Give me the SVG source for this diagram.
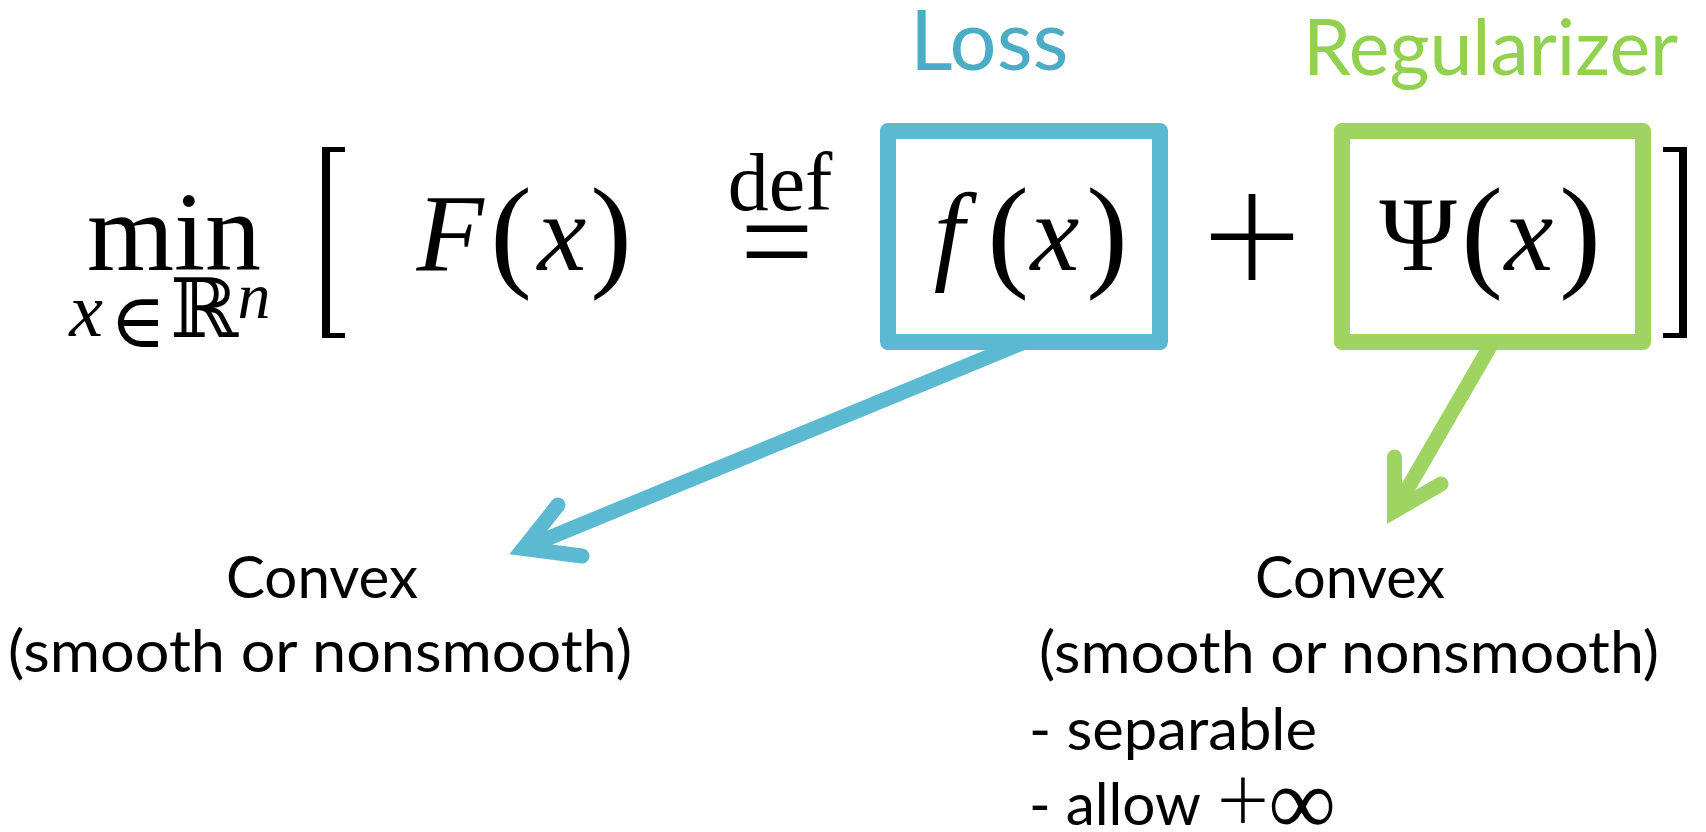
<svg xmlns="http://www.w3.org/2000/svg" width="1706" height="832" viewBox="0 0 1706 832">
<defs>
<style>
.m{font-family:"Liberation Serif","DejaVu Serif",serif;fill:#000}
.mi{font-family:"Liberation Serif","DejaVu Serif",serif;font-style:italic;fill:#000}
.ms{font-family:"DejaVu Serif","Liberation Serif",serif;fill:#000}
.pl{font-family:Lato,"Open Sans",sans-serif;font-weight:300;fill:#000}
.t{font-family:Lato,"Open Sans","Liberation Sans",sans-serif;fill:#000}
.blue{stroke:#5bb9d1}
.green{stroke:#a0d462}
.box{fill:none;stroke-width:16;stroke-linejoin:round}
.arr{fill:none;stroke-width:15;stroke-linecap:round;stroke-linejoin:miter;stroke-miterlimit:10}
</style>
</defs>
<rect width="1706" height="832" fill="#fff"/>
<g id="connectors">
<path class="arr blue" d="M1022 343 L523.5 548.4 M558 505 L523.5 548.4 L582 556"/>
<path class="arr green" d="M1492 343 L1394.5 511 M1394.5 457 L1394.5 511 L1441 484"/>
</g>
<g id="objective">
<text class="m" x="174" y="270" font-size="112" text-anchor="middle">min</text>
<text class="mi" x="86" y="336" font-size="76" text-anchor="middle">x</text>
<text class="ms" x="138" y="347" font-size="76" text-anchor="middle">∈</text>
<text class="ms" x="204" y="337" font-size="82" text-anchor="middle">ℝ</text>
<text class="mi" x="254" y="318" font-size="66" text-anchor="middle">n</text>
<path d="M322 147 H345 V152 H330 V333 H345 V338 H322 Z" fill="#000"/>
<text class="mi" x="450" y="270" font-size="110" text-anchor="middle">F</text>
<text class="m" x="511" y="274" font-size="125" text-anchor="middle">(</text>
<text class="mi" x="562" y="270" font-size="110" text-anchor="middle">x</text>
<text class="m" x="611" y="274" font-size="125" text-anchor="middle">)</text>
<text class="m" x="780" y="210" font-size="82" text-anchor="middle">def</text>
<text class="m" x="777" y="285" font-size="130" text-anchor="middle">=</text>
<text class="pl" x="1252" y="296" font-size="175" text-anchor="middle">+</text>
<path d="M1687 147 H1663 V152 H1679 V333 H1663 V338 H1687 Z" fill="#000"/>
</g>
<g id="loss">
<rect class="box blue" x="888" y="131" width="272" height="211"/>
<text class="t" x="910" y="70" font-size="83" style="fill:#4bacc6">Loss</text>
<text class="mi" x="949" y="270" font-size="110" text-anchor="middle">f</text>
<text class="m" x="1008" y="274" font-size="125" text-anchor="middle">(</text>
<text class="mi" x="1055" y="270" font-size="110" text-anchor="middle">x</text>
<text class="m" x="1107" y="274" font-size="125" text-anchor="middle">)</text>
</g>
<g id="regularizer">
<rect class="box green" x="1342" y="131" width="301" height="211"/>
<text class="t" x="1303" y="75" font-size="77" style="fill:#92d050">Regularizer</text>
<text class="m" x="1418" y="270" font-size="105" text-anchor="middle">Ψ</text>
<text class="m" x="1482" y="274" font-size="125" text-anchor="middle">(</text>
<text class="mi" x="1529" y="270" font-size="110" text-anchor="middle">x</text>
<text class="m" x="1580" y="274" font-size="125" text-anchor="middle">)</text>
</g>
<g id="loss-note">
<text class="t" x="322" y="598" font-size="59" text-anchor="middle" textLength="192" lengthAdjust="spacingAndGlyphs">Convex</text>
<text class="t" x="320" y="672" font-size="59" text-anchor="middle" textLength="624" lengthAdjust="spacingAndGlyphs">(smooth or nonsmooth)</text>
</g>
<g id="reg-note">
<text class="t" x="1350" y="598" font-size="59" text-anchor="middle" textLength="190" lengthAdjust="spacingAndGlyphs">Convex</text>
<text class="t" x="1349" y="673" font-size="59" text-anchor="middle" textLength="620" lengthAdjust="spacingAndGlyphs">(smooth or nonsmooth)</text>
<text class="t" x="1029" y="750" font-size="59" textLength="288" lengthAdjust="spacingAndGlyphs">- separable</text>
<text class="t" x="1029" y="825" font-size="59" textLength="172" lengthAdjust="spacingAndGlyphs">- allow</text>
<text class="pl" x="1243" y="831" font-size="92" text-anchor="middle">+</text>
<text class="m" x="1302" y="834" font-size="95" text-anchor="middle">∞</text>
</g>
</svg>
